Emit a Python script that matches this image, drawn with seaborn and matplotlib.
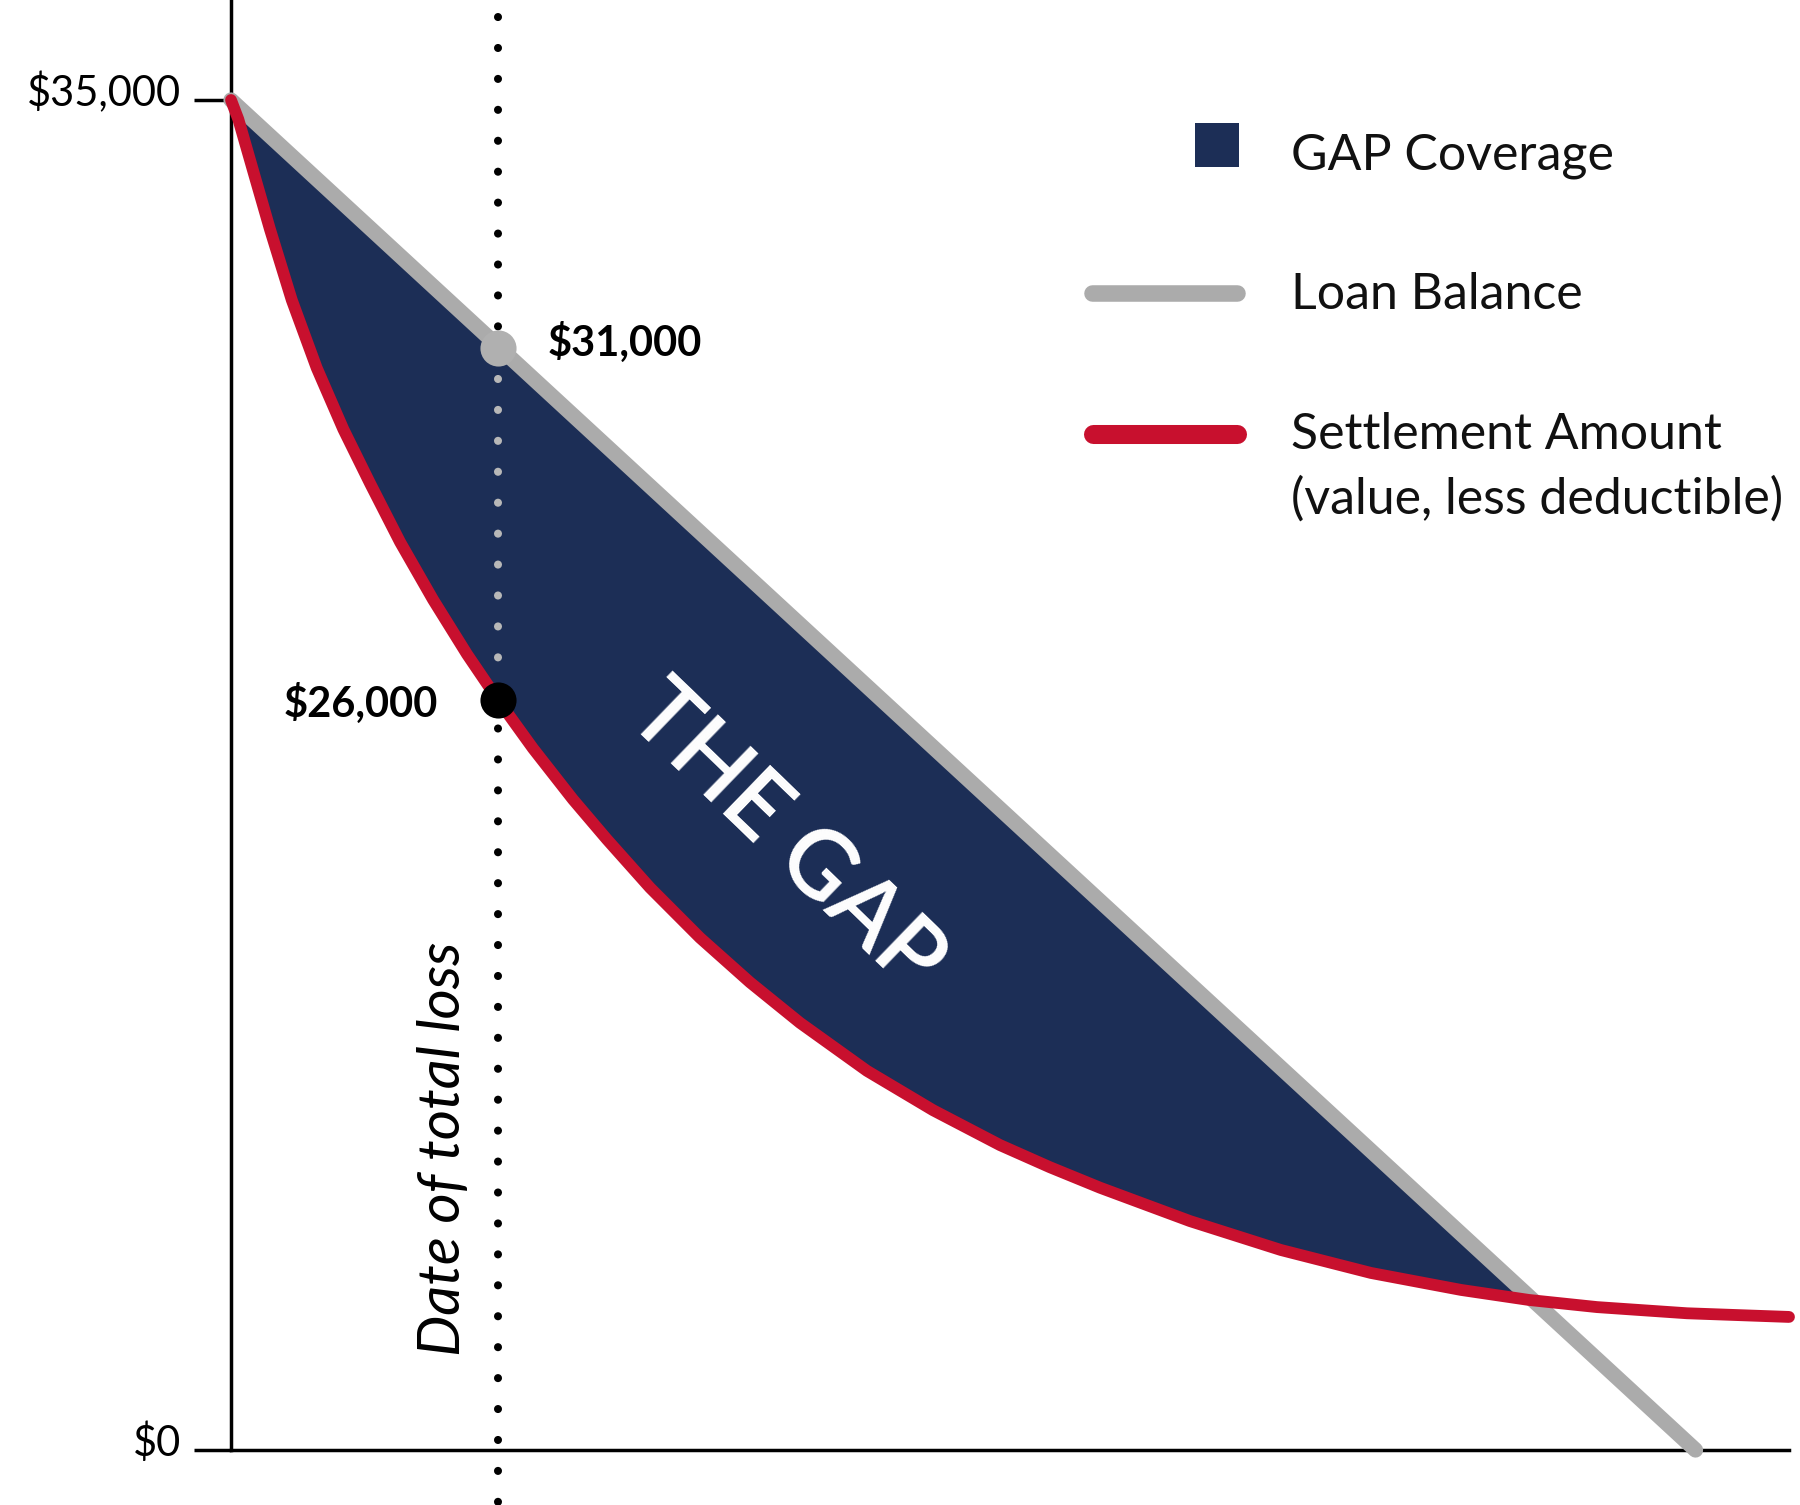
import matplotlib
matplotlib.use("Agg")
import matplotlib.pyplot as plt
import seaborn as sns
from matplotlib.patches import Rectangle
from matplotlib.transforms import ScaledTranslation

# data (x = time since purchase, arbitrary units 0-100; y = dollars)
months = [0, 0.47, 1.43, 2.5, 3.9, 5.5, 7.21, 8.92, 10.85, 12.97, 15.15, 17.14,
          19.38, 21.95, 24.13, 26.89, 30.1, 33.31, 36.52, 40.82, 45.06, 49.36,
          52.57, 55.78, 61.55, 67.39, 73.17, 78.95, 83.31, 87.68, 93.45, 100]
settlement = [35000, 34500, 33150, 31650, 29815, 28055, 26465, 25065, 23540, 22045,
              20630, 19445, 18190, 16865, 15830, 14580, 13280, 12125, 11075, 9830,
              8810, 7905, 7330, 6800, 5935, 5185, 4590, 4150, 3890, 3705, 3545, 3450]
loan_months = [0, 94]
loan_balance = [35000, 0]

loss_month = 17.14
loss_loan = 28560
loss_settlement = 19445
loss_line = [37150, -1400]

tick_values = [0, 35000]
tick_labels = [r"\$0", r"\$35,000"]

navy = "#1c2e56"
gray = "#ababab"
red = "#c8102e"

sns.set_theme(style="white")
plt.rcParams["font.family"] = ["Lato", "DejaVu Sans"]

fig = plt.figure(figsize=(18, 15.05), dpi=100)
ax = fig.add_axes([231 / 1800, 55 / 1505, 1558 / 1800, 1450 / 1505])

dots = (0, (0.01, 3.83))

# dotted "date of total loss" line
ax.plot([loss_month, loss_month], loss_line, color="black", lw=5.8, ls=dots,
        dash_capstyle="round", clip_on=False, zorder=1)

# the gap area between loan balance and settlement (up to where they cross)
gap_x = months[:29] + [loan_months[0]]
gap_y = settlement[:29] + [loan_balance[0]]
ax.fill(gap_x, gap_y, color=navy, lw=0, zorder=2)

ax.plot([loss_month, loss_month], [loss_loan, loss_settlement], color="#b8b8b8",
        lw=5.8, ls=dots, dash_capstyle="round", zorder=2.5)

sns.lineplot(x=loan_months, y=loan_balance, color=gray, lw=11,
             solid_capstyle="round", ax=ax, zorder=3, clip_on=False)
sns.lineplot(x=months, y=settlement, color=red, lw=8.5,
             solid_capstyle="round", solid_joinstyle="round", ax=ax, zorder=4, clip_on=False)

ax.plot(loss_month, loss_loan, "o", ms=26, color="#b0b0b0", mew=0, zorder=5)
ax.plot(loss_month, loss_settlement, "o", ms=26, color="black", mew=0, zorder=5)

ax.annotate(r"\$31,000", xy=(loss_month, loss_loan), xytext=(36, 7),
            textcoords="offset points", ha="left", va="center_baseline",
            fontsize=30, fontweight="bold", color="black")
ax.annotate(r"\$26,000", xy=(loss_month, loss_settlement), xytext=(-43, 0),
            textcoords="offset points", ha="right", va="center_baseline",
            fontsize=30, fontweight="bold", color="black")

ax.text(35.6, 15900, "THE GAP", rotation=-44, ha="center", va="center",
        fontsize=68, fontweight="semibold", color="white", zorder=6)
ax.text(13.67, 7800, "Date of total loss", rotation=90, ha="center", va="center",
        fontsize=42, fontstyle="italic", color="black")

# axes
ax.set_xlim(0, 100)
ax.set_ylim(0, 37593)
ax.set_xticks([])
ax.set_yticks(tick_values, tick_labels)
ax.tick_params(axis="y", left=True, length=27, width=2.5, pad=9,
               labelsize=30, colors="black", direction="out")
for lab in ax.get_yticklabels():
    lab.set_transform(lab.get_transform() + ScaledTranslation(0, 8 / 72, fig.dpi_scale_trans))
for s in ["top", "right"]:
    ax.spines[s].set_visible(False)
for s in ["left", "bottom"]:
    ax.spines[s].set_color("black")
    ax.spines[s].set_linewidth(2.5)

# legend
ax.add_patch(Rectangle((0.6187, 0.8848), 0.0283, 0.0304, transform=ax.transAxes,
                       color=navy, lw=0, clip_on=False))
ax.plot([0.5526, 0.6457], [0.7979, 0.7979], transform=ax.transAxes, color=gray,
        lw=11.9, solid_capstyle="round", clip_on=False)
ax.plot([0.5533, 0.6457], [0.7007, 0.7007], transform=ax.transAxes, color=red,
        lw=13.7, solid_capstyle="round", clip_on=False)
legend_text = ["GAP Coverage", "Loan Balance", "Settlement Amount", "(value, less deductible)"]
legend_y = [0.8831, 0.7872, 0.6903, 0.6455]
for t, y in zip(legend_text, legend_y):
    ax.text(0.6804, y, t, transform=ax.transAxes, ha="left", va="baseline",
            fontsize=36, color="#111111")

fig.savefig("out.png", dpi=100, facecolor="white")
